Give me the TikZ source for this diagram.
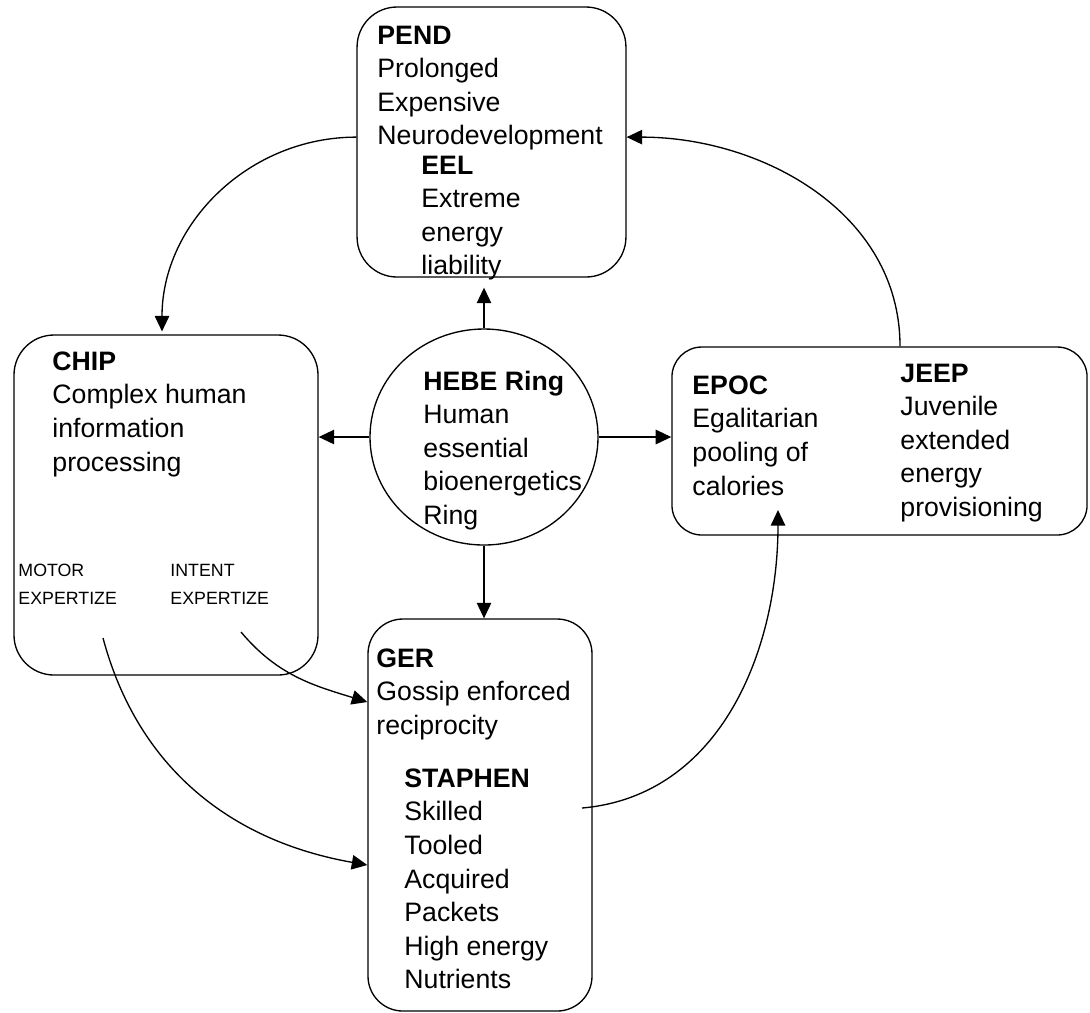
\documentclass[tikz,border=0pt]{standalone}
\usepackage{fontspec}
\setmainfont{Liberation Sans}
\usetikzlibrary{arrows.meta,shapes.geometric}
\tikzset{
	box/.style={draw, line width=0.6pt, inner sep=0pt},
	txt/.style={anchor=north west, yshift=7.5pt, inner sep=0pt, align=left, font=\fontsize{12}{15.1}\selectfont, execute at begin node=\strut},
	smalltxt/.style={anchor=north west, yshift=6pt, inner sep=0pt, align=left, font=\fontsize{8}{12.6}\selectfont, execute at begin node=\strut},
	arr/.style={line width=0.6pt, -{Triangle[length=7pt,width=6.5pt]}}
}

\begin{document}
\begin{tikzpicture}[x=0.45pt,y=0.45pt]
			%%%%% START %%%%%
			\useasboundingbox (0,0) rectangle (1090,-1012);
			
			\node[box, rounded corners=18pt, minimum width=121pt, minimum height=121.5pt] (pend) at (491.5,-142) {};
			\node[box, rounded corners=18pt, minimum width=136.8pt, minimum height=153pt] (chip) at (166,-505) {};
			\node[box, ellipse, minimum width=102.6pt, minimum height=97.2pt] (hebe) at (484,-437) {};
			\node[box, rounded corners=13.5pt, minimum width=186.8pt, minimum height=84.6pt] (pool) at (879.5,-441) {};
			\node[box, rounded corners=15.7pt, minimum width=100.8pt, minimum height=176.4pt] (ger) at (480,-815) {};
			
			\node[txt] (pendtxt) at (377,-42) {\textbf{PEND}\\Prolonged\\Expensive\\Neurodevelopment};
			\node[txt] (eeltxt) at (421,-172) {\textbf{EEL}\\Extreme\\energy\\liability};
			\node[txt] (chiptxt) at (52,-368) {\textbf{CHIP}\\Complex human\\information\\processing};
			\node[smalltxt] (motor) at (18,-577) {MOTOR\\EXPERTIZE};
			\node[smalltxt] (intent) at (170,-577) {INTENT\\EXPERTIZE};
			\node[txt] (hebetxt) at (423,-387) {\textbf{HEBE Ring}\\Human\\essential\\bioenergetics\\Ring};
			\node[txt] (epoctxt) at (692,-392) {\textbf{EPOC}\\Egalitarian\\pooling of\\calories};
			\node[txt] (jeep) at (900,-380) {\textbf{JEEP}\\Juvenile\\extended\\energy\\provisioning};
			\node[txt] (gertxt) at (376,-665) {\textbf{GER}\\Gossip enforced\\reciprocity};
			\node[txt] (staphen) at (404,-785) {\textbf{STAPHEN}\\Skilled\\Tooled\\Acquired\\Packets\\High energy\\Nutrients};
			
			\coordinate (motorout) at (103,-638);
			\coordinate (intentout) at (241,-632);
			\coordinate (staphenout) at (582,-808);
			\coordinate (poolin) at (778,-510);
			
			\draw[arr, shorten >=4.5pt] (hebe.north) -- (hebe.north |- pend.south);
			\draw[arr] (hebe.west) -- (hebe.west -| chip.east);
			\draw[arr] (hebe.east) -- (hebe.east -| pool.west);
			\draw[arr] (hebe.south) -- (hebe.south |- ger.north);
			
			\draw[arr] ([yshift=2.2pt]pend.west) to[out=180,in=90] ([xshift=-1.8pt,yshift=1.3pt]chip.north);
			\draw[arr] (pool.north -| jeep.west) to[out=90,in=0] ([yshift=2.2pt]pend.east);
			\draw[arr] (motorout) to[out=-75,in=170] (ger.west |- 0,-865);
			\draw[arr] (intentout) to[out=-50,in=163] (ger.west |- 0,-702);
			\draw[arr] (staphenout) to[out=5,in=-90] (poolin);
			
			%%%%% END %%%%%
\end{tikzpicture}
\end{document}
